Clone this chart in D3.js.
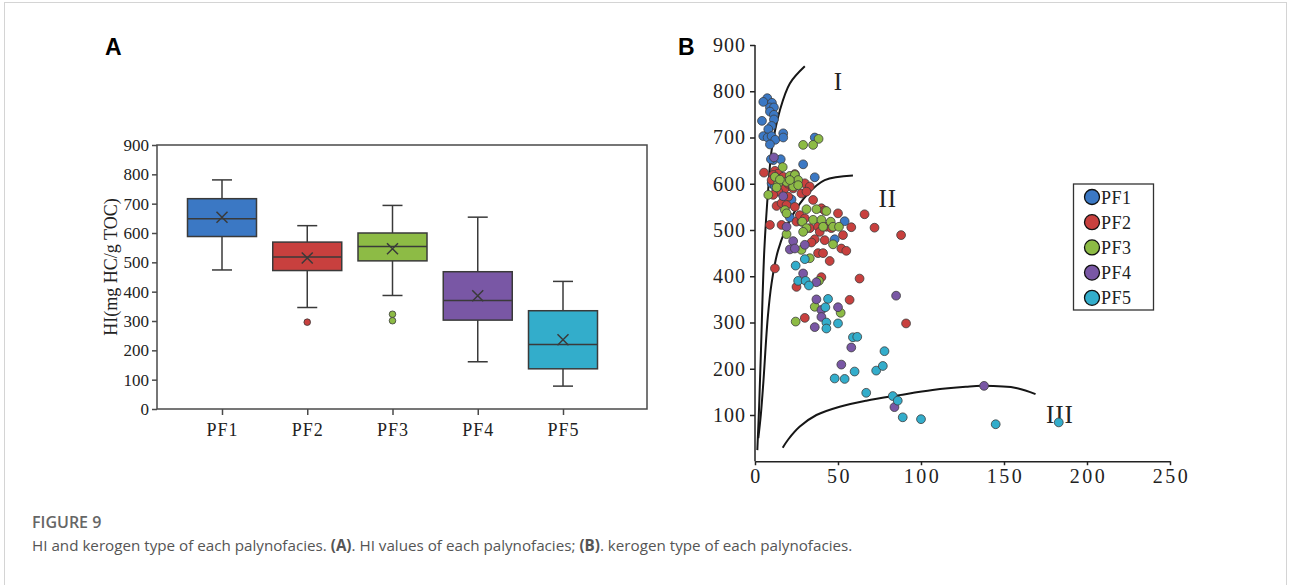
<!DOCTYPE html>
<html>
<head>
<meta charset="utf-8">
<script src="https://cdn.jsdelivr.net/npm/d3@7"></script>
<style>
  body { margin: 0; background: #fff; }
  svg { display: block; }
</style>
</head>
<body>
<div id="chart"></div>
<script>
// ---- data: panel A (box plot) ----
const categories = ['PF1', 'PF2', 'PF3', 'PF4', 'PF5'];
const boxMax = [781, 625, 694, 654, 435];
const boxQ3 = [717, 569, 600, 468, 335];
const boxMedian = [649, 518, 554, 370, 220];
const boxQ1 = [588, 472, 505, 303, 137];
const boxMin = [474, 346, 387, 161, 78];
const boxMean = [654, 515, 546, 386, 236];
const boxOutliers = [[], [296], [323, 301], [], []];
const hiTicks = [0, 100, 200, 300, 400, 500, 600, 700, 800, 900];

// ---- data: panel B (kerogen scatter), [TOC-ish x, HI] ----
const pf1Points = [[7.4,785],[5,777],[10.2,775],[9,765],[11.4,765],[9,756],[11.4,749],[4.2,736],[11.4,739],
  [10,725],[8,718],[5,703],[7.6,700],[10,703],[12.2,695],[9,685],[17,709],[17,700],[36,700],[29,642],
  [11,651],[15.5,653],[9.6,653],[36,614],[10,601],[12,594],[15,597],[22,566],[21,527],[54,519],[48,480]];
const pf2Points = [[5.4,624],[12,628],[14,622],[11,619],[13,612],[10,608],[24,621],[30,601],[33,594],
  [28,579],[31,583],[18,590],[14,583],[11,576],[20,572],[13,552],[16,558],[19,554],[24,550],[35,565],
  [40,547],[42,542],[50,536],[66,534],[72,505],[9,511],[16,511],[25,518],[28,518],[33,504],[38,507],
  [39,496],[43,507],[46,504],[53,489],[58,506],[36,480],[34,473],[42,478],[52,460],[55,455],[38,450],
  [41,450],[45,433],[12,417],[63,395],[25,377],[40,398],[57,349],[30,310],[88,489],[91,298],[27,532],
  [30,525],[20,600],[17,615],[23,590]];
const pf3Points = [[38.3,697],[29,684],[35,684],[16.7,636],[21,617],[24,619],[26,608],[19,604],[14,601],
  [23,594],[26,597],[8,576],[18,543],[19,536],[31,545],[37,545],[43,541],[28.5,518],[31,504],[35,522],
  [40,522],[41,507],[45.6,518],[47,507],[50.6,507],[19,491],[29,496],[28,457],[33,439],[47,469],
  [36,334],[51.6,321],[24.5,302],[38.5,390],[12,615],[15,609],[13,592],[21,608]];
const pf4Points = [[11.4,657],[23,476],[21,458],[30,468],[24,460],[17,573],[19,507],[29,406],[37,387],
  [85,358],[37,350],[40,327],[50,333],[40,312],[36,290],[58,246],[52,209],[84,117],[138,163]];
const pf5Points = [[30,437],[24.5,423],[26,390],[30.5,390],[32.5,380],[44,351],[42.4,333],[43,300],
  [43,287],[50,298],[59,268],[61.6,269],[78,238],[60,194],[73,196],[77,206],[48,179],[54,178],[67,148],
  [83,141],[86,131],[89,95],[100,91],[145,80],[183,84]];
const curveI = [[1.4,24],[2.5,120],[3.6,240],[5.6,456],[8.2,600],[10,672],[15,759],[21,817],[30,854]];
const curveII = [[2,50],[3.5,100],[5,169],[7.7,311],[10,385],[13.9,456],[22,528],[32,579],[42,608],[59,618]];
const curveIII = [[16.7,29],[20,47],[27,75],[37,100],[51,118],[67,131],[87,143],[107,154],[127,161],[137,163],[158,158],[169,145]];
const typeLabels = ['I', 'II', 'III'];
const typeLabelPos = [[50.3,803],[80,550],[183.7,83]];
const xTicksB = [0, 50, 100, 150, 200, 250];
const yTicksB = [100, 200, 300, 400, 500, 600, 700, 800, 900];

const colors = ['#3b78c4', '#c8403e', '#8dbb45', '#7957a5', '#33adcb'];
const seriesPoints = [pf1Points, pf2Points, pf3Points, pf4Points, pf5Points];

// dimensions
const WIDTH = 1290;
const HEIGHT = 585;
const SERIF = '"Liberation Serif", "Times New Roman", serif';
const SANS = '"Liberation Sans", Arial, sans-serif';

const $svg = d3.select('#chart').append('svg')
  .attr('width', WIDTH)
  .attr('height', HEIGHT);

// outer frame of the figure
$svg.append('rect')
  .attr('x', 4.5).attr('y', 2.5)
  .attr('width', WIDTH - 8).attr('height', HEIGHT + 20)
  .attr('fill', 'none')
  .attr('stroke', '#d4d4d4');

// ================= panel A =================
const A_LEFT = 157;
const A_TOP = 145;
const A_W = 490;
const A_H = 264;

const scaleXA = d3.scalePoint().domain(categories).range([A_LEFT + 65, A_LEFT + 406]);
const scaleYA = d3.scaleLinear().domain([0, 900]).range([A_TOP + A_H, A_TOP]);

const $a = $svg.append('g').attr('class', 'panel-a');

$a.append('text')
  .attr('x', 105).attr('y', 55)
  .attr('font-family', SANS).attr('font-weight', 'bold').attr('font-size', 23)
  .text('A');

// frame
$a.append('rect')
  .attr('x', A_LEFT).attr('y', A_TOP)
  .attr('width', A_W).attr('height', A_H)
  .attr('fill', 'none').attr('stroke', '#4a4a4a').attr('stroke-width', 1.5);

const $axisYA = $a.append('g')
  .attr('transform', `translate(${A_LEFT},0)`)
  .call(d3.axisLeft(scaleYA).tickValues(hiTicks).tickSize(5).tickPadding(3).tickFormat(d3.format('d')));
const $axisXA = $a.append('g')
  .attr('transform', `translate(0,${A_TOP + A_H})`)
  .call(d3.axisBottom(scaleXA).tickSize(6).tickPadding(8));
[$axisYA, $axisXA].forEach(ax => {
  ax.select('.domain').remove();
  ax.selectAll('line').attr('stroke', '#4a4a4a').attr('stroke-width', 1.5);
  ax.selectAll('text').attr('font-family', SERIF).attr('fill', '#222');
});
$axisYA.selectAll('text').attr('font-size', 17);
$axisXA.selectAll('text').attr('font-size', 18).attr('letter-spacing', 1);

$a.append('text')
  .attr('transform', `translate(117,${(A_TOP + A_TOP + A_H) / 2 - 10}) rotate(-90)`)
  .attr('text-anchor', 'middle')
  .attr('font-family', SERIF).attr('font-size', 18).attr('fill', '#222')
  .text('HI(mg HC/g TOC)');

const BOX_HALF = 34.5;
const CAP_HALF = 10;
const STROKE = '#3a3a3a';

const $boxes = $a.selectAll('.box')
  .data(categories)
  .join('g')
  .attr('class', 'box');

// whiskers
$boxes.append('line')
  .attr('x1', d => scaleXA(d)).attr('x2', d => scaleXA(d))
  .attr('y1', (d, i) => scaleYA(boxMax[i])).attr('y2', (d, i) => scaleYA(boxQ3[i]));
$boxes.append('line')
  .attr('x1', d => scaleXA(d)).attr('x2', d => scaleXA(d))
  .attr('y1', (d, i) => scaleYA(boxQ1[i])).attr('y2', (d, i) => scaleYA(boxMin[i]));
$boxes.append('line')
  .attr('x1', d => scaleXA(d) - CAP_HALF).attr('x2', d => scaleXA(d) + CAP_HALF)
  .attr('y1', (d, i) => scaleYA(boxMax[i])).attr('y2', (d, i) => scaleYA(boxMax[i]));
$boxes.append('line')
  .attr('x1', d => scaleXA(d) - CAP_HALF).attr('x2', d => scaleXA(d) + CAP_HALF)
  .attr('y1', (d, i) => scaleYA(boxMin[i])).attr('y2', (d, i) => scaleYA(boxMin[i]));

// box body
$boxes.append('rect')
  .attr('x', d => scaleXA(d) - BOX_HALF)
  .attr('y', (d, i) => scaleYA(boxQ3[i]))
  .attr('width', BOX_HALF * 2)
  .attr('height', (d, i) => scaleYA(boxQ1[i]) - scaleYA(boxQ3[i]))
  .attr('fill', (d, i) => colors[i]);

// median
$boxes.append('line')
  .attr('x1', d => scaleXA(d) - BOX_HALF).attr('x2', d => scaleXA(d) + BOX_HALF)
  .attr('y1', (d, i) => scaleYA(boxMedian[i])).attr('y2', (d, i) => scaleYA(boxMedian[i]));

// mean marker
const MX = 5.5;
$boxes.append('path')
  .attr('d', (d, i) => {
    const cx = scaleXA(d);
    const cy = scaleYA(boxMean[i]);
    return `M${cx - MX},${cy - MX}L${cx + MX},${cy + MX}M${cx - MX},${cy + MX}L${cx + MX},${cy - MX}`;
  })
  .attr('fill', 'none');

$boxes.selectAll('line, rect, path')
  .attr('stroke', STROKE).attr('stroke-width', 1.5);

// outliers
$boxes.selectAll('.outlier')
  .data((d, i) => boxOutliers[i].map(v => ({ cat: d, v, i })))
  .join('circle')
  .attr('class', 'outlier')
  .attr('cx', o => scaleXA(o.cat))
  .attr('cy', o => scaleYA(o.v))
  .attr('r', 3.3)
  .attr('fill', o => colors[o.i])
  .attr('stroke', STROKE).attr('stroke-width', 0.8);

// ================= panel B =================
const scaleXB = d3.scaleLinear().domain([0, 250]).range([755, 1170]);
const scaleYB = d3.scaleLinear().domain([0, 900]).range([461.25, 45]);

const $b = $svg.append('g').attr('class', 'panel-b');

$b.append('text')
  .attr('x', 678).attr('y', 55)
  .attr('font-family', SANS).attr('font-weight', 'bold').attr('font-size', 23)
  .text('B');

const $axisXB = $b.append('g')
  .attr('transform', `translate(0,${scaleYB(0)})`)
  .call(d3.axisBottom(scaleXB).tickValues(xTicksB).tickSize(4).tickPadding(4).tickSizeOuter(0));
const $axisYB = $b.append('g')
  .attr('transform', `translate(${scaleXB(0)},0)`)
  .call(d3.axisLeft(scaleYB).tickValues(yTicksB).tickSize(5).tickPadding(4).tickSizeOuter(0));
[$axisXB, $axisYB].forEach(ax => {
  ax.selectAll('.domain, line').attr('stroke', '#222').attr('stroke-width', 1.5);
  ax.selectAll('text').attr('font-family', SERIF).attr('font-size', 20).attr('fill', '#222');
});
$axisXB.selectAll('text').attr('letter-spacing', 2.5).attr('dx', 1);
$axisYB.selectAll('text').attr('letter-spacing', 1);
// extend y domain down to the x axis
$axisYB.select('.domain').attr('d', `M0,${scaleYB(900)}V${scaleYB(0)}`);

// kerogen boundary curves
const lineB = d3.line()
  .x(d => scaleXB(d[0]))
  .y(d => scaleYB(d[1]))
  .curve(d3.curveCatmullRom.alpha(0.5));
$b.selectAll('.kerogen')
  .data([curveI, curveII, curveIII])
  .join('path')
  .attr('class', 'kerogen')
  .attr('d', lineB)
  .attr('fill', 'none')
  .attr('stroke', '#161616')
  .attr('stroke-width', 2);

$b.selectAll('.type-label')
  .data(typeLabels)
  .join('text')
  .attr('class', 'type-label')
  .attr('x', (d, i) => scaleXB(typeLabelPos[i][0]))
  .attr('y', (d, i) => scaleYB(typeLabelPos[i][1]))
  .attr('text-anchor', 'middle')
  .attr('font-family', SERIF).attr('font-size', 25).attr('fill', '#222')
  .attr('letter-spacing', 1)
  .text(d => d);

// points
seriesPoints.forEach((pts, i) => {
  $b.append('g')
    .selectAll('circle')
    .data(pts)
    .join('circle')
    .attr('cx', d => scaleXB(d[0]))
    .attr('cy', d => scaleYB(d[1]))
    .attr('r', 4.4)
    .attr('fill', colors[i])
    .attr('stroke', '#3c3c3c')
    .attr('stroke-width', 0.8);
});

// legend
const $legend = $b.append('g').attr('class', 'legend');
$legend.append('rect')
  .attr('x', 1073.5).attr('y', 184)
  .attr('width', 80).attr('height', 126)
  .attr('fill', '#fff').attr('stroke', '#333').attr('stroke-width', 1.3);
const $items = $legend.selectAll('.item')
  .data(categories)
  .join('g')
  .attr('class', 'item')
  .attr('transform', (d, i) => `translate(1092,${197 + i * 25.2})`);
$items.append('circle')
  .attr('r', 7.5)
  .attr('fill', (d, i) => colors[i])
  .attr('stroke', '#111').attr('stroke-width', 1.3);
$items.append('text')
  .attr('x', 9).attr('y', 6.5)
  .attr('font-family', SERIF).attr('font-size', 18).attr('fill', '#222')
  .attr('letter-spacing', 0.5)
  .text(d => d);

// ================= caption =================
const $cap = $svg.append('g').attr('class', 'caption')
  .attr('font-family', '"Open Sans", "Noto Sans", sans-serif');
$cap.append('text')
  .attr('x', 32).attr('y', 528)
  .attr('font-size', 16).attr('font-weight', 600).attr('fill', '#666')
  .text('FIGURE 9');
const $line2 = $cap.append('text')
  .attr('x', 32).attr('y', 551)
  .attr('font-size', 15.2).attr('fill', '#555');
[
  ['HI and kerogen type of each palynofacies. ', 400],
  ['(A)', 700],
  ['. HI values of each palynofacies; ', 400],
  ['(B)', 700],
  ['. kerogen type of each palynofacies.', 400]
].forEach(([t, w]) => {
  $line2.append('tspan').attr('font-weight', w).text(t);
});
</script>
</body>
</html>
